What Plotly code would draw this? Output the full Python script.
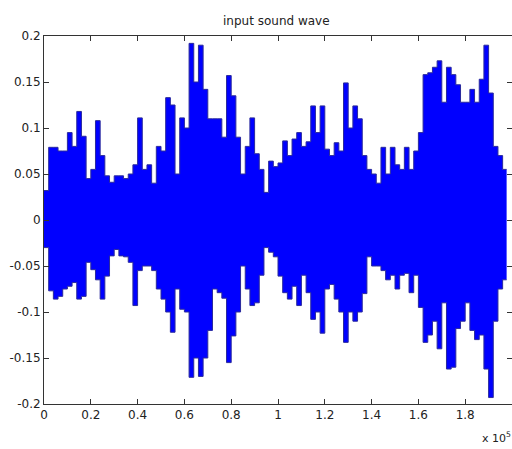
import plotly.graph_objects as go

# Envelope of the waveform, read per 2000-sample bin (bin start positions)
bin_start = [i * 2000 for i in range(99)]
sample_end = 197700

upper = [
    0.032, 0.079, 0.079, 0.075, 0.075, 0.095, 0.080, 0.118, 0.091, 0.045,
    0.055, 0.108, 0.070, 0.048, 0.041, 0.048, 0.048, 0.045, 0.050, 0.060,
    0.111, 0.055, 0.060, 0.040, 0.080, 0.075, 0.133, 0.125, 0.050, 0.111,
    0.100, 0.192, 0.150, 0.190, 0.142, 0.110, 0.110, 0.110, 0.090, 0.157,
    0.135, 0.090, 0.050, 0.080, 0.111, 0.072, 0.055, 0.030, 0.064, 0.058,
    0.062, 0.086, 0.070, 0.088, 0.095, 0.080, 0.085, 0.124, 0.095, 0.124,
    0.077, 0.070, 0.084, 0.075, 0.149, 0.100, 0.124, 0.110, 0.070, 0.055,
    0.050, 0.040, 0.079, 0.050, 0.079, 0.060, 0.055, 0.079, 0.055, 0.075,
    0.095, 0.158, 0.160, 0.166, 0.173, 0.128, 0.166, 0.158, 0.147, 0.128,
    0.128, 0.142, 0.128, 0.153, 0.190, 0.138, 0.080, 0.070, 0.055,
]

lower = [
    -0.030, -0.077, -0.086, -0.083, -0.075, -0.072, -0.068, -0.086, -0.083, -0.046,
    -0.054, -0.065, -0.086, -0.061, -0.039, -0.032, -0.039, -0.040, -0.046, -0.093,
    -0.055, -0.050, -0.050, -0.055, -0.075, -0.086, -0.100, -0.122, -0.075, -0.097,
    -0.100, -0.171, -0.150, -0.170, -0.150, -0.120, -0.075, -0.079, -0.085, -0.155,
    -0.126, -0.100, -0.050, -0.075, -0.093, -0.090, -0.060, -0.030, -0.035, -0.040,
    -0.061, -0.079, -0.086, -0.072, -0.093, -0.060, -0.079, -0.108, -0.100, -0.123,
    -0.075, -0.070, -0.086, -0.100, -0.133, -0.100, -0.110, -0.100, -0.080, -0.040,
    -0.050, -0.050, -0.055, -0.065, -0.060, -0.075, -0.060, -0.058, -0.079, -0.060,
    -0.095, -0.133, -0.125, -0.110, -0.140, -0.090, -0.162, -0.160, -0.118, -0.110,
    -0.090, -0.120, -0.130, -0.125, -0.162, -0.193, -0.110, -0.075, -0.065,
]

x_tick_vals = [0, 20000, 40000, 60000, 80000, 100000, 120000, 140000, 160000, 180000, 200000]
x_tick_text = ["0", "0.2", "0.4", "0.6", "0.8", "1", "1.2", "1.4", "1.6", "1.8", "2"]
y_tick_vals = [-0.2, -0.15, -0.1, -0.05, 0, 0.05, 0.1, 0.15, 0.2]
y_tick_text = ["-0.2", "-0.15", "-0.1", "-0.05", "0", "0.05", "0.1", "0.15", "0.2"]

xs = bin_start + [sample_end]
lo = lower + [lower[-1]]
up = upper + [upper[-1]]

wave_blue = "#0000FF"
edge = "#2a2a9c"

fig = go.Figure()
fig.add_trace(go.Scatter(x=xs, y=lo, mode="lines", line=dict(color=edge, width=1, shape="hv"),
                         hoverinfo="skip", showlegend=False))
fig.add_trace(go.Scatter(x=xs, y=up, mode="lines", line=dict(color=edge, width=1, shape="hv"),
                         fill="tonexty", fillcolor=wave_blue, hoverinfo="skip", showlegend=False))

axis_col = "#333333"
txt_col = "#222222"
font = dict(family="DejaVu Sans, Liberation Sans, sans-serif", size=12, color=txt_col)

fig.update_layout(
    width=512, height=449,
    margin=dict(l=44, r=0, t=36, b=45, autoexpand=False),
    paper_bgcolor="white", plot_bgcolor="white",
    font=font,
    xaxis=dict(range=[0, 200000], tickvals=x_tick_vals, ticktext=x_tick_text, automargin=False,
               ticks="inside", ticklen=5, tickcolor=axis_col, showline=True, linecolor=axis_col,
               linewidth=1, mirror="ticks", showgrid=False, zeroline=False),
    yaxis=dict(range=[-0.2, 0.2], tickvals=y_tick_vals, ticktext=y_tick_text, automargin=False,
               ticks="inside", ticklen=5, tickcolor=axis_col, showline=True, linecolor=axis_col,
               linewidth=1, mirror="ticks", showgrid=False, zeroline=False),
    annotations=[
        dict(text="input sound wave", xref="paper", yref="paper", x=0.496, y=1.041,
             xanchor="center", yanchor="middle", showarrow=False,
             font=dict(size=12, color=txt_col)),
        dict(text="x 10<sup>5</sup>", xref="paper", yref="paper", x=0.9316, y=-0.118,
             xanchor="left", yanchor="bottom", showarrow=False,
             font=dict(size=11, color=txt_col)),
    ],
)

fig.write_html("out.html", config={"displayModeBar": False},
               post_script="document.body.style.margin='0';document.body.style.overflow='hidden';")
